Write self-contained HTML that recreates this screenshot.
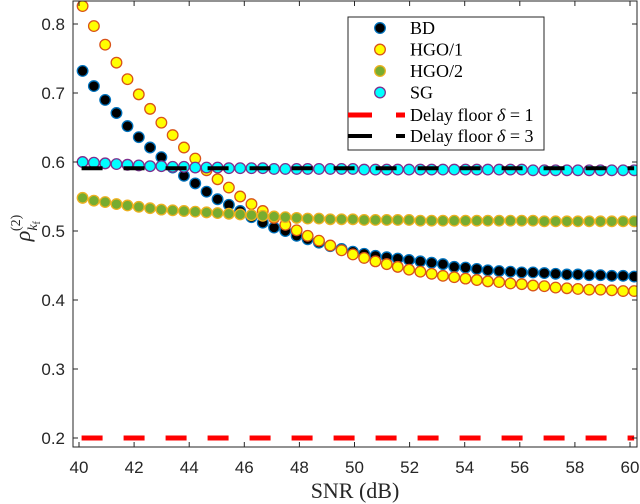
<!DOCTYPE html>
<html><head><meta charset="utf-8"><style>
html,body{margin:0;padding:0;background:#fff;width:640px;height:504px;overflow:hidden}
svg{display:block}
</style></head><body>
<svg id="chart" width="640" height="504" xmlns="http://www.w3.org/2000/svg">
<g id="plot"></g>
<g id="axes"></g>
<text x="355" y="498" text-anchor="middle" font-family="Liberation Serif, serif" font-size="22" fill="#262626">SNR (dB)</text>
<g transform="translate(30,228) rotate(-90)">
<text font-family="Liberation Serif, serif" font-size="22" font-style="italic" fill="#262626" text-anchor="middle">ρ<tspan font-size="14" dy="7" font-style="italic">k</tspan><tspan font-size="10" dy="3" font-style="normal">f</tspan><tspan font-size="14" dy="-20" dx="-10" font-style="normal">(2)</tspan></text>
</g>
<g id="legend"></g>
</svg>
<script>
const snr=[40.13,40.54,40.95,41.36,41.76,42.17,42.58,42.99,43.40,43.81,44.22,44.63,45.03,45.44,45.85,46.26,46.67,47.08,47.49,47.90,48.30,48.71,49.12,49.53,49.94,50.35,50.76,51.17,51.57,51.98,52.39,52.80,53.21,53.62,54.03,54.44,54.84,55.25,55.66,56.07,56.48,56.89,57.30,57.71,58.11,58.52,58.93,59.34,59.75,60.15];
const bd=[0.732,0.710,0.690,0.671,0.652,0.636,0.621,0.607,0.592,0.580,0.569,0.557,0.546,0.538,0.529,0.520,0.512,0.505,0.500,0.493,0.488,0.483,0.478,0.474,0.470,0.467,0.464,0.462,0.460,0.458,0.456,0.454,0.452,0.448,0.447,0.445,0.443,0.442,0.441,0.440,0.440,0.439,0.438,0.437,0.437,0.436,0.436,0.435,0.435,0.434];
const hgo1=[0.826,0.797,0.770,0.744,0.720,0.698,0.677,0.657,0.639,0.621,0.605,0.588,0.575,0.563,0.550,0.539,0.529,0.519,0.509,0.501,0.493,0.486,0.479,0.472,0.466,0.461,0.456,0.452,0.448,0.444,0.441,0.438,0.435,0.433,0.431,0.429,0.427,0.426,0.424,0.423,0.421,0.420,0.418,0.417,0.416,0.415,0.415,0.414,0.413,0.413];
const hgo2=[0.548,0.544,0.542,0.539,0.537,0.535,0.533,0.531,0.530,0.529,0.528,0.527,0.526,0.525,0.524,0.523,0.522,0.521,0.520,0.519,0.518,0.518,0.517,0.517,0.517,0.516,0.516,0.516,0.516,0.516,0.515,0.515,0.515,0.515,0.515,0.515,0.515,0.515,0.515,0.515,0.515,0.514,0.514,0.514,0.514,0.514,0.514,0.514,0.514,0.514];
const sg=[0.600,0.599,0.598,0.597,0.596,0.595,0.594,0.594,0.593,0.593,0.592,0.592,0.592,0.591,0.591,0.591,0.591,0.590,0.590,0.590,0.590,0.590,0.590,0.590,0.590,0.589,0.589,0.589,0.589,0.589,0.589,0.589,0.589,0.589,0.589,0.589,0.589,0.589,0.589,0.589,0.588,0.588,0.588,0.588,0.588,0.588,0.588,0.588,0.588,0.588];
const floor1=0.2, floor3=0.591;
const xTicks=[40,42,44,46,48,50,52,54,56,58,60];
const yTicks=[0.2,0.3,0.4,0.5,0.6,0.7,0.8];
const yTickLabels=["0.2","0.3","0.4","0.5","0.6","0.7","0.8"];

const NS="http://www.w3.org/2000/svg";
const L=73,R=637,T=1,B=447;
const xs=v=>79+(v-40)*27.55;
const ys=v=>438-(v-0.2)*690;
function mk(tag,attrs,parent){const e=document.createElementNS(NS,tag);for(const k in attrs)e.setAttribute(k,attrs[k]);parent.appendChild(e);return e;}
const plot=document.getElementById('plot'),axes=document.getElementById('axes'),leg=document.getElementById('legend');
mk('defs',{},plot).innerHTML='<clipPath id="cp"><rect x="'+L+'" y="'+T+'" width="'+(R-L)+'" height="'+(B-T)+'"/></clipPath>';
plot.setAttribute('clip-path','url(#cp)');
const series=[
 {d:bd,fill:'#000000',stroke:'#0072BD',name:'bd'},
 {d:hgo1,fill:'#FFFF00',stroke:'#D95319',name:'hgo1'},
 {d:hgo2,fill:'#77AC30',stroke:'#EDB120',name:'hgo2'},
 {d:sg,fill:'#00FFFF',stroke:'#7E2F8E',name:'sg'}];
series.forEach(s=>{
 const g=mk('g',{},plot);
 
 
 s.d.forEach((v,i)=>{
  const c=mk('circle',{cx:xs(snr[i]),cy:ys(v),r:5.3,fill:s.fill,stroke:s.stroke,'stroke-width':1.3},g);
  
  
 });
});
const f1=mk('line',{x1:xs(40.13)-1,x2:xs(60.15),y1:ys(floor1),y2:ys(floor1),stroke:'#FF0000','stroke-width':5,'stroke-dasharray':'21 21'},plot);


const f3=mk('line',{x1:xs(40.13)-1,x2:xs(60.15),y1:ys(floor3),y2:ys(floor3),stroke:'#000000','stroke-width':4,'stroke-dasharray':'21 21'},plot);


const box=mk('rect',{x:L,y:T,width:R-L,height:B-T,fill:'none',stroke:'#262626','stroke-width':1},axes);


xTicks.forEach(t=>{
 const x=xs(t);
 mk('line',{x1:x,x2:x,y1:B,y2:B-5,stroke:'#262626'},axes);
 mk('line',{x1:x,x2:x,y1:T,y2:T+5,stroke:'#262626'},axes);
 const tx=mk('text',{x:x,y:B+26,'text-anchor':'middle','font-family':'Liberation Sans, sans-serif','font-size':17,fill:'#262626'},axes);
 tx.textContent=String(t);
 
 
});
yTicks.forEach((t,i)=>{
 const y=ys(t);
 mk('line',{x1:L,x2:L+5,y1:y,y2:y,stroke:'#262626'},axes);
 mk('line',{x1:R,x2:R-5,y1:y,y2:y,stroke:'#262626'},axes);
 const tx=mk('text',{x:L-8,y:y+6,'text-anchor':'end','font-family':'Liberation Sans, sans-serif','font-size':17,fill:'#262626'},axes);
 tx.textContent=yTickLabels[i];
 
 
});
const lb=mk('rect',{x:348,y:17,width:196,height:133,fill:'#fff',stroke:'#262626','stroke-width':1},leg);


const labels=['BD','HGO/1','HGO/2','SG'];
series.forEach((s,i)=>{
 const y=28+i*21.5;
 const g=mk('g',{},leg);
 
 
 mk('circle',{cx:380,cy:y,r:5.3,fill:s.fill,stroke:s.stroke,'stroke-width':1.3},g);
 const t=mk('text',{x:410,y:y+6,'font-family':'Liberation Serif, serif','font-size':18,fill:'#000'},g);
 t.textContent=labels[i];
});
[['#FF0000',5,'Delay floor ','1',115],['#000000',4,'Delay floor ','3',136]].forEach(e=>{
 const g=mk('g',{},leg);
 
 
 mk('line',{x1:348,x2:372,y1:e[4],y2:e[4],stroke:e[0],'stroke-width':e[1]},g);
 mk('line',{x1:396,x2:405,y1:e[4],y2:e[4],stroke:e[0],'stroke-width':e[1]},g);
 const t=mk('text',{x:410,y:e[4]+6,'font-family':'Liberation Serif, serif','font-size':18,fill:'#000'},g);
 t.innerHTML=e[2]+'<tspan font-style="italic">δ</tspan> = '+e[3];
});
</script>
</body></html>
